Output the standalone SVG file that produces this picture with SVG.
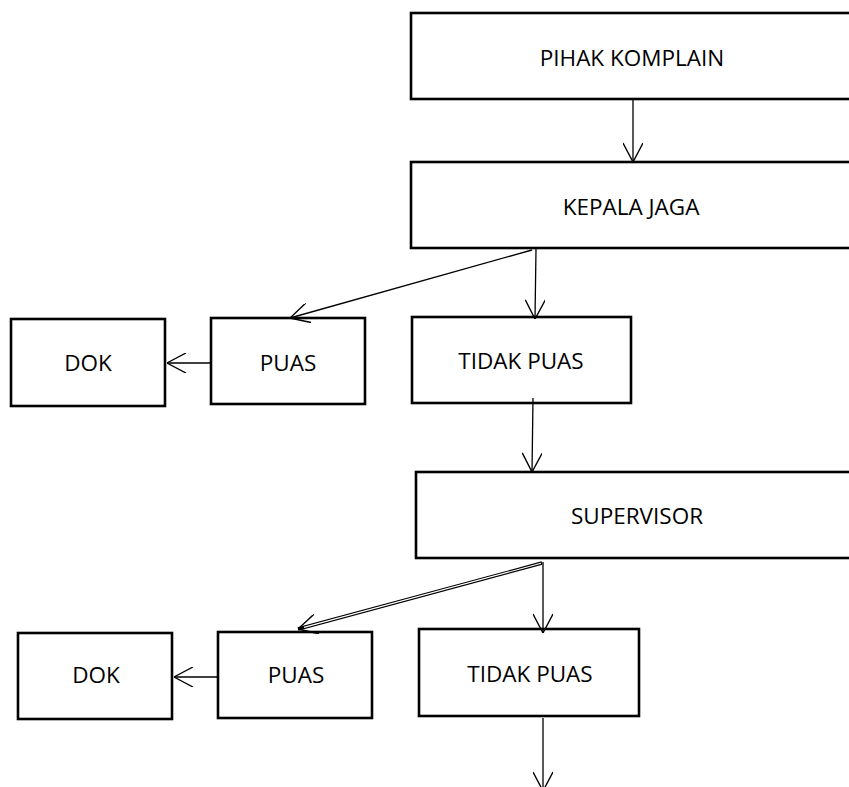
<svg xmlns="http://www.w3.org/2000/svg" width="849" height="787" viewBox="0 0 849 787">
<style>
.box{fill:#fff;stroke:#000;stroke-width:2.6}
.lbl{font-family:"Open Sans","Liberation Sans",sans-serif;font-size:22.5px;fill:#000;text-anchor:middle}
.con{fill:none;stroke:#000;stroke-width:1.3}
</style>
<defs>
<marker id="ah" viewBox="0 0 20 20" refX="20" refY="10" markerWidth="20" markerHeight="20" markerUnits="userSpaceOnUse" orient="auto">
<path d="M1,0 L20,10 L1,20" fill="none" stroke="#000" stroke-width="1.4"/>
</marker>
</defs>
<rect width="849" height="787" fill="#fff"/>
<g id="n-pihak"><rect class="box" x="411" y="13" width="460" height="86"/><text class="lbl" x="632" y="66">PIHAK KOMPLAIN</text></g>
<g id="n-kepala"><rect class="box" x="411" y="162" width="460" height="86"/><text class="lbl" x="631" y="215">KEPALA JAGA</text></g>
<g id="n-dok1"><rect class="box" x="11" y="319" width="154" height="87"/><text class="lbl" x="88" y="371">DOK</text></g>
<g id="n-puas1"><rect class="box" x="211" y="318" width="154" height="86"/><text class="lbl" x="288" y="371">PUAS</text></g>
<g id="n-tidak1"><rect class="box" x="412" y="317" width="219" height="86"/><text class="lbl" x="521" y="369">TIDAK PUAS</text></g>
<g id="n-supervisor"><rect class="box" x="416" y="472" width="460" height="86"/><text class="lbl" x="637" y="524">SUPERVISOR</text></g>
<g id="n-dok2"><rect class="box" x="18" y="633" width="154" height="86"/><text class="lbl" x="96" y="683">DOK</text></g>
<g id="n-puas2"><rect class="box" x="218" y="632" width="154" height="86"/><text class="lbl" x="296" y="683">PUAS</text></g>
<g id="n-tidak2"><rect class="box" x="419" y="629" width="220" height="87"/><text class="lbl" x="530" y="682">TIDAK PUAS</text></g>
<g id="connectors">
<line class="con" x1="633" y1="99" x2="633" y2="162" marker-end="url(#ah)"/>
<line class="con" x1="532" y1="250" x2="290" y2="318" marker-end="url(#ah)"/>
<line class="con" x1="536" y1="249" x2="535" y2="319" marker-end="url(#ah)"/>
<line class="con" x1="211" y1="363" x2="167" y2="363" marker-end="url(#ah)"/>
<line class="con" x1="533" y1="398" x2="532" y2="472" marker-end="url(#ah)"/>
<line fill="none" stroke="#000" stroke-width="3.4" x1="542" y1="563" x2="298" y2="629" marker-end="url(#ah)"/>
<line fill="none" stroke="#fff" stroke-width="1.1" x1="541" y1="563.3" x2="304" y2="627.4"/>
<line class="con" x1="543" y1="562" x2="543" y2="633" marker-end="url(#ah)"/>
<line class="con" x1="218" y1="677" x2="174" y2="677" marker-end="url(#ah)"/>
<line class="con" x1="543" y1="718" x2="543" y2="791" marker-end="url(#ah)"/>
</g>
</svg>
